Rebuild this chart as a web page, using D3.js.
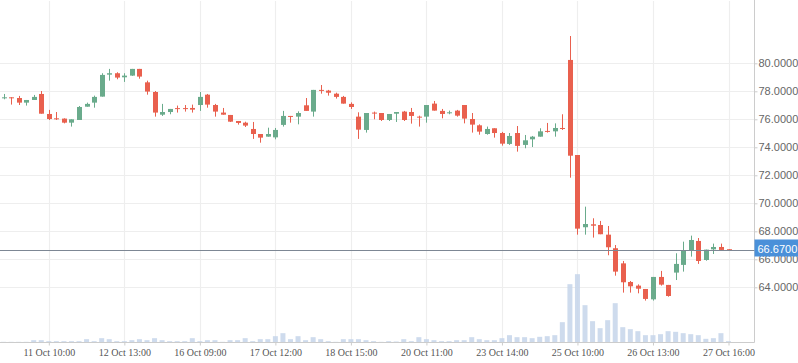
<html>
<head>
<style>
body { margin: 0; background: #fff; }
.ytick text { font-family: "Liberation Sans", sans-serif; font-size: 11px; fill: #666; }
.xtick text { font-family: "Liberation Serif", serif; font-size: 10px; fill: #555; }
</style>
<script src="https://d3js.org/d3.v7.min.js"></script>
</head>
<body>
<div id="chart"></div>
<script>

// candles, one per period
var open  = [77.55,77.57,77.52,77.19,77.38,77.81,76.38,76.07,76.05,75.76,
             75.95,76.9,77.19,77.62,79.19,79.29,79.0,79.12,79.6,78.64,
             77.95,76.33,76.52,76.8,76.8,76.81,77.02,77.76,77.02,76.48,
             76.31,75.88,75.76,75.31,74.95,74.76,74.71,75.6,76.24,76.19,
             77.0,76.55,78.1,78.05,77.83,77.6,77.1,76.19,75.24,76.48,
             76.45,75.95,76.4,76.55,76.52,76.19,76.19,77.12,76.6,76.45,
             76.62,77.02,76.02,75.57,74.95,75.36,75.02,74.24,75.02,74.17,
             74.57,74.76,75.17,75.14,75.38,80.24,73.45,68.29,68.5,68.45,
             67.76,66.79,65.71,64.38,64.12,63.88,63.14,64.74,64.17,65.05,
             65.6,66.6,67.31,65.95,66.71,66.88,66.72];
var high  = [77.81,77.58,77.67,77.38,77.74,78.02,76.67,76.52,76.07,76.0,
             76.95,77.19,77.69,79.29,79.6,79.36,79.29,79.6,79.6,78.76,
             78.02,77.1,76.74,76.98,77.02,77.05,77.95,77.81,77.1,76.81,
             76.31,75.88,75.83,75.81,74.95,75.4,75.38,76.6,76.24,76.57,
             77.52,78.1,78.45,78.1,77.9,77.67,77.21,76.5,76.45,76.55,
             76.45,76.38,76.52,76.6,76.81,76.26,77.02,77.31,76.74,76.62,
             76.67,77.02,76.45,75.64,75.48,75.36,75.1,75.02,75.52,74.88,
             74.81,75.36,75.74,75.71,76.36,81.95,73.45,69.76,68.93,68.74,
             68.38,67.02,65.88,64.45,64.21,63.88,64.74,65.17,64.17,66.43,
             67.26,67.69,67.52,66.69,67.12,67.12,66.72];
var low   = [77.43,77.05,77.02,76.98,77.38,76.40,75.95,75.95,75.71,75.48,
             75.95,76.9,76.83,77.62,78.76,78.86,78.67,79.1,78.9,77.76,
             76.19,76.24,76.36,76.48,76.55,76.48,76.6,76.83,76.19,76.33,
             75.81,75.62,75.45,74.6,74.33,74.76,74.57,75.48,75.76,75.64,
             76.6,76.19,77.83,77.69,77.48,77.12,76.74,74.6,75.05,76.0,
             75.88,75.88,75.81,75.88,75.69,75.48,75.76,76.62,76.07,76.36,
             76.19,75.71,75.05,74.9,74.9,74.69,74.12,74.17,73.69,73.93,
             74.02,74.76,75.05,74.76,75.24,71.83,67.76,67.76,67.55,67.79,
             66.29,64.83,63.62,63.62,63.57,63.05,63.05,64.12,63.33,64.52,
             65.12,66.19,65.67,65.9,66.38,66.62,66.64];
var close = [77.57,77.55,77.19,77.38,77.6,76.40,76.02,76.02,75.76,76.0,
             76.88,77.1,77.6,79.17,79.29,78.98,79.12,79.6,79.05,77.98,
             76.48,76.52,76.74,76.76,76.76,76.69,77.6,77.05,76.55,76.33,
             75.83,75.74,75.55,74.95,74.69,74.95,75.24,76.24,76.2,76.45,
             76.6,78.1,78.05,77.9,77.6,77.12,76.88,75.26,76.45,76.43,
             75.95,76.38,76.52,75.95,76.24,76.14,77.02,76.62,76.38,76.5,
             76.26,76.05,75.62,75.12,75.31,75.02,74.26,74.81,74.1,74.5,
             74.76,75.14,75.12,75.38,75.33,73.4,68.19,68.52,68.4,67.79,
             66.86,65.12,64.36,64.07,63.9,63.17,64.74,64.19,63.38,65.67,
             66.6,67.38,65.88,66.69,66.88,66.67,66.67];
var volume = [2,2,2,2,7,7,4,4,4,4,
              4,10,4,13,10,4,4,7,10,7,
              13,7,4,4,4,13,4,7,7,2,
              7,7,13,4,10,10,19,28,10,19,
              7,16,10,4,2,10,10,10,7,4,
              2,4,3,10,4,16,10,7,4,4,
              7,7,16,10,7,7,13,22,16,16,
              13,17,19,22,61,175,205,112,64,43,
              67,118,46,40,34,22,22,25,34,32,
              28,25,22,11,13,28,4];

var tickLabels = ['11 Oct 10:00','12 Oct 13:00','16 Oct 09:00','17 Oct 12:00','18 Oct 15:00',
                  '20 Oct 11:00','23 Oct 14:00','25 Oct 10:00','26 Oct 13:00','27 Oct 16:00'];
var tickIndex = d3.range(6, 97, 10);
var priceTicks = [64, 66, 68, 70, 72, 74, 76, 78, 80];
var lastPrice = 66.67;

var width = 798, height = 363;
var plotRight = 754.5, plotBottom = 342.5;

var svg = d3.select('#chart').append('svg')
    .attr('width', width)
    .attr('height', height);

var x = d3.scaleLinear().domain([0, 96]).range([3.5, 728.5]);
var y = d3.scaleLinear().domain([64, 80]).range([287.3, 63.3]);
var yv = d3.scaleLinear().domain([0, 300]).range([plotBottom, plotBottom - 100]);

// grid
svg.append('g').selectAll('line')
  .data(tickIndex).enter().append('line')
    .attr('x1', function(d) { return Math.round(x(d)) + 0.5; })
    .attr('x2', function(d) { return Math.round(x(d)) + 0.5; })
    .attr('y1', 1).attr('y2', plotBottom)
    .attr('stroke', '#eeeeee').attr('stroke-width', 1.2);

svg.append('g').selectAll('line')
  .data(priceTicks).enter().append('line')
    .attr('x1', 0).attr('x2', plotRight)
    .attr('y1', function(d) { return Math.round(y(d)) + 0.5; })
    .attr('y2', function(d) { return Math.round(y(d)) + 0.5; })
    .attr('stroke', '#eeeeee').attr('stroke-width', 1.2);

// volume
svg.append('g').selectAll('rect')
  .data(volume).enter().append('rect')
    .attr('x', function(d, i) { return x(i) - 2.5; })
    .attr('width', 5)
    .attr('y', function(d) { return yv(d); })
    .attr('height', function(d) { return plotBottom - yv(d); })
    .attr('fill', '#c5d5ea')
    .attr('opacity', 0.85);

// candles
var candles = svg.append('g').selectAll('g')
  .data(open).enter().append('g')
    .attr('fill', function(d, i) { return close[i] >= open[i] ? '#6aab8c' : '#e9604e'; })
    .attr('stroke', function(d, i) { return close[i] >= open[i] ? '#6aab8c' : '#e9604e'; });

candles.append('line')
    .attr('x1', function(d, i) { return Math.round(x(i)) + 0.5; })
    .attr('x2', function(d, i) { return Math.round(x(i)) + 0.5; })
    .attr('y1', function(d, i) { return y(high[i]); })
    .attr('y2', function(d, i) { return y(low[i]); })
    .attr('stroke-width', 1);

candles.append('rect')
    .attr('stroke', 'none')
    .attr('x', function(d, i) { return Math.round(x(i)) - 2; })
    .attr('width', 5)
    .attr('y', function(d, i) { return y(Math.max(open[i], close[i])); })
    .attr('height', function(d, i) { return Math.max(1, Math.abs(y(open[i]) - y(close[i]))); });

// axes
var yAxis = svg.append('g')
    .attr('class', 'ytick')
    .attr('transform', 'translate(' + plotRight + ',0)')
    .call(d3.axisRight(y).tickValues(priceTicks).tickSize(3).tickPadding(1)
      .tickFormat(d3.format('.4f')));
yAxis.select('.domain').attr('stroke', '#cccccc').attr('d', 'M0,0V' + plotBottom);
yAxis.selectAll('.tick line').attr('stroke', '#cccccc');

var xAxis = svg.append('g')
    .attr('class', 'xtick')
    .attr('transform', 'translate(0,' + plotBottom + ')')
    .call(d3.axisBottom(x).tickValues(tickIndex).tickSize(3).tickPadding(3)
      .tickFormat(function(d, i) { return tickLabels[i]; }));
xAxis.select('.domain').attr('stroke', '#cccccc').attr('d', 'M0,0H' + plotRight);
xAxis.selectAll('.tick line').attr('stroke', '#cccccc');

// last price marker
var py = Math.round(y(lastPrice)) + 0.5;
svg.append('line')
    .attr('x1', 0).attr('x2', plotRight)
    .attr('y1', py).attr('y2', py)
    .attr('stroke', '#7d8794').attr('stroke-width', 1);
svg.append('rect')
    .attr('x', plotRight).attr('y', py - 11)
    .attr('width', width - plotRight).attr('height', 17)
    .attr('fill', '#4a90d9');
svg.append('text')
    .attr('x', plotRight + 3).attr('y', py + 2)
    .attr('fill', '#fff')
    .style('font-family', '"Liberation Sans", sans-serif')
    .style('font-size', '11px')
    .text(d3.format('.4f')(lastPrice));

</script>
</body>
</html>
